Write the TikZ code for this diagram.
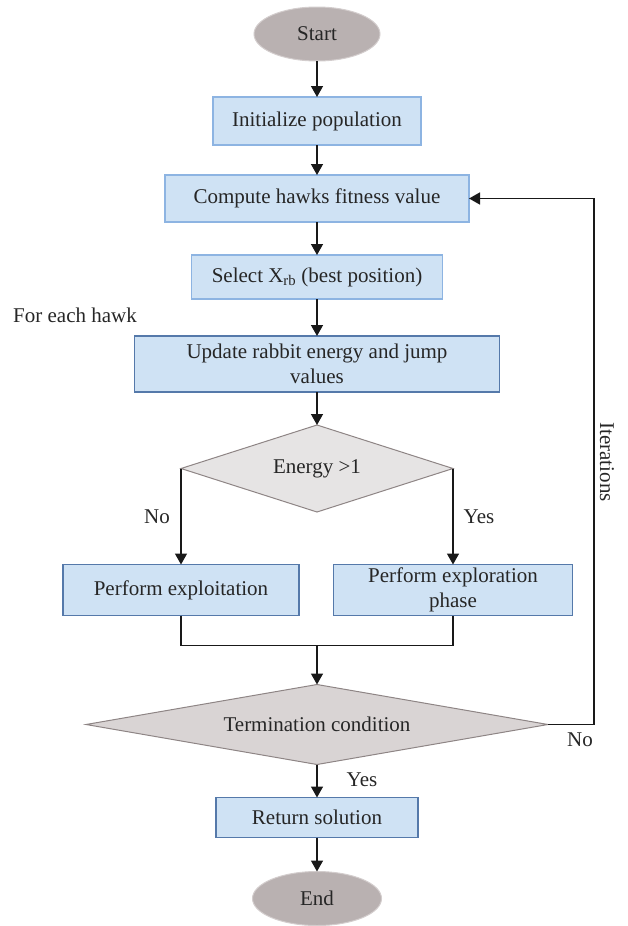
\documentclass[tikz,border=0pt]{standalone}
\usepackage{fontspec}
\setmainfont{Liberation Serif}
\usetikzlibrary{arrows.meta,positioning,shapes.geometric}
\definecolor{hawkblue}{HTML}{CFE2F4}
\definecolor{hawkline}{HTML}{8DB4E2}
\definecolor{hawkdark}{HTML}{5579AA}
\definecolor{hawkgray}{HTML}{B9B1B1}
\definecolor{hawkrim}{HTML}{D3CDCD}
\definecolor{hawkdiam}{HTML}{E6E4E4}
\definecolor{hawkterm}{HTML}{D9D4D4}
\definecolor{hawkedge}{HTML}{8E8585}
\tikzset{
  basefont/.style={font=\fontsize{21}{25}\selectfont, text=black!85},
  endnode/.style={
    ellipse,
    draw=hawkrim,
    fill=hawkgray,
    line width=1pt,
    outer sep=0pt,
    minimum width=126pt,
    minimum height=54pt,
    basefont
  },
  procbox/.style={
    rectangle,
    draw=hawkline,
    fill=hawkblue,
    line width=1.3pt,
    align=center,
    inner sep=0pt,
    outer sep=0pt,
    basefont
  },
  procboxdark/.style={
    procbox,
    draw=hawkdark
  },
  decision/.style={
    diamond,
    aspect=5,
    draw=hawkedge,
    fill=hawkdiam,
    line width=1pt,
    inner sep=0pt,
    outer sep=0pt,
    basefont
  },
  lbl/.style={basefont, inner sep=0pt},
  arrow/.style={
    -{Triangle[length=11pt,width=12pt]},
    line width=1.5pt,
    draw=black!90
  },
  link/.style={
    line width=1.5pt,
    draw=black!90
  }
}
\begin{document}
\begin{tikzpicture}[x=1pt,y=-1pt]
\useasboundingbox (0,0) rectangle (628,926);
\node[endnode] (start) at (317,34) {Start};
\node[procbox, below=36pt of start, minimum width=208pt, minimum height=48pt] (init) {Initialize population};
\node[procbox, below=30pt of init, minimum width=304pt, minimum height=47pt] (fitness) {Compute hawks fitness value};
\node[procbox, below=33pt of fitness, minimum width=251pt, minimum height=44pt] (select) {Select X\textsubscript{rb} (best position)};
\node[procboxdark, below=37pt of select, minimum width=365pt, minimum height=56pt] (update) {Update rabbit energy and jump\\values};
\node[decision, below=33pt of update, minimum width=272pt, minimum height=87pt] (energy) {Energy >1};
\node[procboxdark, below=96pt of energy.west, minimum width=236pt, minimum height=51pt] (exploit) {Perform exploitation};
\node[procboxdark, below=96pt of energy.east, minimum width=239pt, minimum height=51pt] (explore) {Perform exploration\\phase};
\coordinate (split) at (exploit.south -| energy.south);
\coordinate[below=30pt of split] (merge);
\node[decision, fill=hawkterm, below=39pt of merge, minimum width=462pt, minimum height=80pt] (term) {Termination condition};
\node[procboxdark, below=33pt of term, minimum width=202pt, minimum height=40pt] (result) {Return solution};
\node[endnode, below=34pt of result, minimum width=129pt] (finish) {End};

% side labels
\node[lbl, anchor=west] (eachhawk) at (13,315) {For each hawk};
\node[lbl] (nolbl) at (157,517) {No};
\node[lbl] (yeslbl) at (479,517) {Yes};
\node[lbl] (termno) at (580,740) {No};
\node[lbl] (termyes) at (362,780) {Yes};
\node[lbl, rotate=-90] (iterlbl) at (607,462) {Iterations};

\draw[arrow] (start) -- (init);
\draw[arrow] (init) -- (fitness);
\draw[arrow] (fitness) -- (select);
\draw[arrow] (select) -- (update);
\draw[arrow] (update) -- (energy);
\draw[arrow] (energy.west) -- (exploit);
\draw[arrow] (energy.east) -- (explore);
\draw[link] (exploit.south) |- (merge) -| (explore.south);
\draw[arrow] (merge) -- (term);
\draw[arrow] (term) -- (result);
\draw[arrow] (result) -- (finish);
\draw[arrow] (term.east) -- ++(46,0) |- (fitness.east);
\end{tikzpicture}
\end{document}
